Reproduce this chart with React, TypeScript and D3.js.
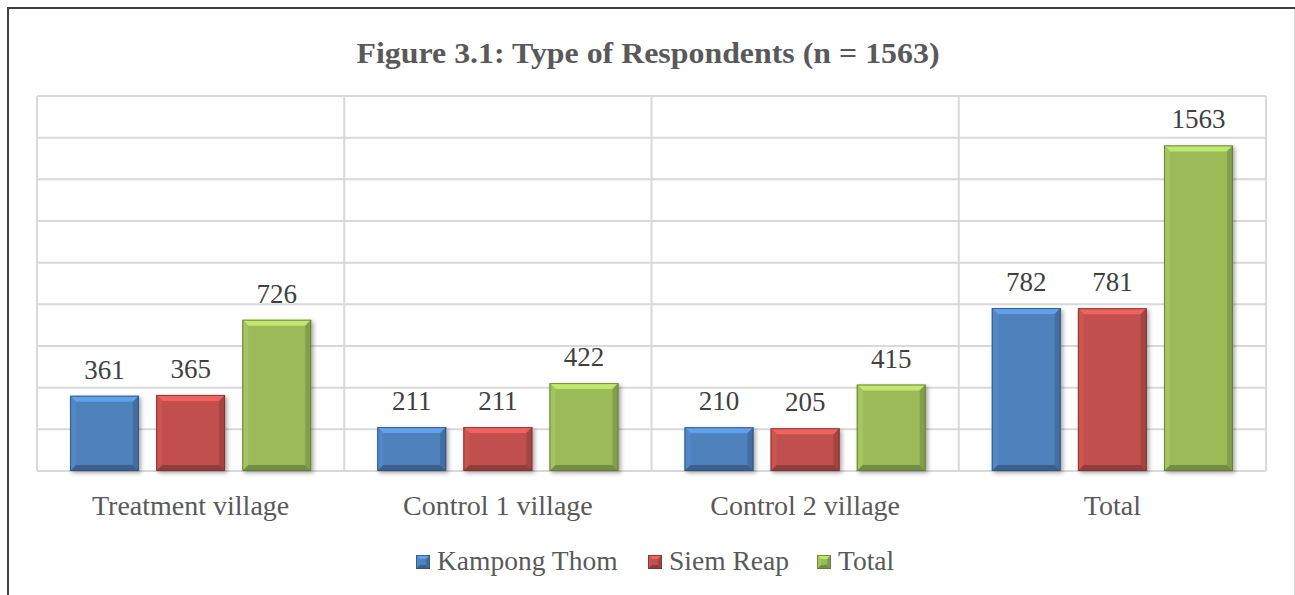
import * as d3 from "d3"

const categories = ["Treatment village", "Control 1 village", "Control 2 village", "Total"]
const seriesNames = ["Kampong Thom", "Siem Reap", "Total"]
const kampongThom = [361, 211, 210, 782]
const siemReap = [365, 211, 205, 781]
const totals = [726, 422, 415, 1563]
const yTicks = [0, 200, 400, 600, 800, 1000, 1200, 1400, 1600, 1800]

const seriesValues = [kampongThom, siemReap, totals]
const colors = ["#4f81bd", "#c0504d", "#9bbb59"]
const FONT = "'Liberation Serif', 'DejaVu Serif', serif"

const W = 1295
const H = 595
const plot = { left: 37, right: 1266, top: 96, bottom: 471 }

function Bevel({ x, y, w, h, color, b = 6 }) {
    const c = d3.color(color)
    const light = c.brighter(0.6).formatHex()
    const lightSide = c.brighter(0.15).formatHex()
    const dark = c.darker(0.45).formatHex()
    const darker = c.darker(0.8).formatHex()
    const outline = c.darker(1.3).formatHex()
    const bb = Math.min(b, h / 2, w / 2)
    return (
        <g>
            <rect x={x} y={y} width={w} height={h} fill={color} />
            <polygon points={`${x},${y} ${x + w},${y} ${x + w - bb},${y + bb} ${x + bb},${y + bb}`} fill={light} />
            <polygon points={`${x},${y} ${x + bb},${y + bb} ${x + bb},${y + h - bb} ${x},${y + h}`} fill={lightSide} />
            <polygon points={`${x + w},${y} ${x + w},${y + h} ${x + w - bb},${y + h - bb} ${x + w - bb},${y + bb}`} fill={dark} />
            <polygon points={`${x},${y + h} ${x + bb},${y + h - bb} ${x + w - bb},${y + h - bb} ${x + w},${y + h}`} fill={darker} />
            <rect x={x + 0.5} y={y + 0.5} width={w - 1} height={h - 1} fill="none" stroke={outline} strokeWidth={1} strokeOpacity={0.8} />
        </g>
    )
}

export default function App() {
    const x0 = d3.scaleBand().domain(categories).range([plot.left, plot.right]).paddingInner(0).paddingOuter(0)
    const x1 = d3.scaleBand().domain(seriesNames).range([0, x0.bandwidth()]).paddingInner(0.2).paddingOuter(0.384)
    const y = d3.scaleLinear().domain([0, 1800]).range([plot.bottom, plot.top])

    const legendX = [416, 648, 817]

    return (
        <svg width={W} height={H} style={{ position: "absolute", left: 0, top: 0, background: "#fff" }}>
            <defs>
                <filter id="shadow" x="-20%" y="-20%" width="150%" height="150%">
                    <feDropShadow dx="2" dy="2" stdDeviation="2" floodColor="#000" floodOpacity="0.35" />
                </filter>
            </defs>
            <rect x={0} y={0} width={W} height={H} fill="#fff" />
            {/* frame */}
            <line x1={7} x2={W} y1={8} y2={8} stroke="#3f3f3f" strokeWidth={2} />
            <line x1={8} x2={8} y1={7} y2={H} stroke="#3f3f3f" strokeWidth={2} />
            <line x1={1294.5} x2={1294.5} y1={9} y2={H} stroke="#d9d9d9" strokeWidth={1} />

            <text x={648} y={63} textAnchor="middle" fontFamily={FONT} fontWeight="bold" fontSize={29} fill="#595959"
                textLength={583} lengthAdjust="spacingAndGlyphs">
                Figure 3.1: Type of Respondents (n = 1563)
            </text>

            {/* grid */}
            <g stroke="#d9d9d9" strokeWidth={2}>
                {yTicks.map(t => (
                    <line key={t} x1={plot.left} x2={plot.right} y1={y(t)} y2={y(t)} />
                ))}
                {categories.map(c => (
                    <line key={c} x1={x0(c)} x2={x0(c)} y1={plot.top} y2={plot.bottom} />
                ))}
                <line x1={plot.right} x2={plot.right} y1={plot.top} y2={plot.bottom} />
            </g>

            {/* bars */}
            {categories.map((c, ci) => (
                <g key={c}>
                    {seriesNames.map((s, si) => {
                        const v = seriesValues[si][ci]
                        const bx = x0(c) + x1(s)
                        const by = y(v)
                        return (
                            <g key={s}>
                                <g filter="url(#shadow)">
                                    <Bevel x={bx} y={by} w={x1.bandwidth()} h={plot.bottom - by} color={colors[si]} />
                                </g>
                                <text x={bx + x1.bandwidth() / 2} y={by - 17} textAnchor="middle" fontFamily={FONT} fontSize={27} fill="#404040">
                                    {v}
                                </text>
                            </g>
                        )
                    })}
                    <text x={x0(c) + x0.bandwidth() / 2} y={515} textAnchor="middle" fontFamily={FONT} fontSize={28} fill="#595959">
                        {c}
                    </text>
                </g>
            ))}

            {/* legend */}
            {seriesNames.map((s, i) => (
                <g key={s}>
                    <Bevel x={legendX[i]} y={555} w={14} h={14} color={colors[i]} b={4} />
                    <text x={legendX[i] + 21} y={570} fontFamily={FONT} fontSize={27.5} fill="#595959">
                        {s}
                    </text>
                </g>
            ))}
        </svg>
    )
}
